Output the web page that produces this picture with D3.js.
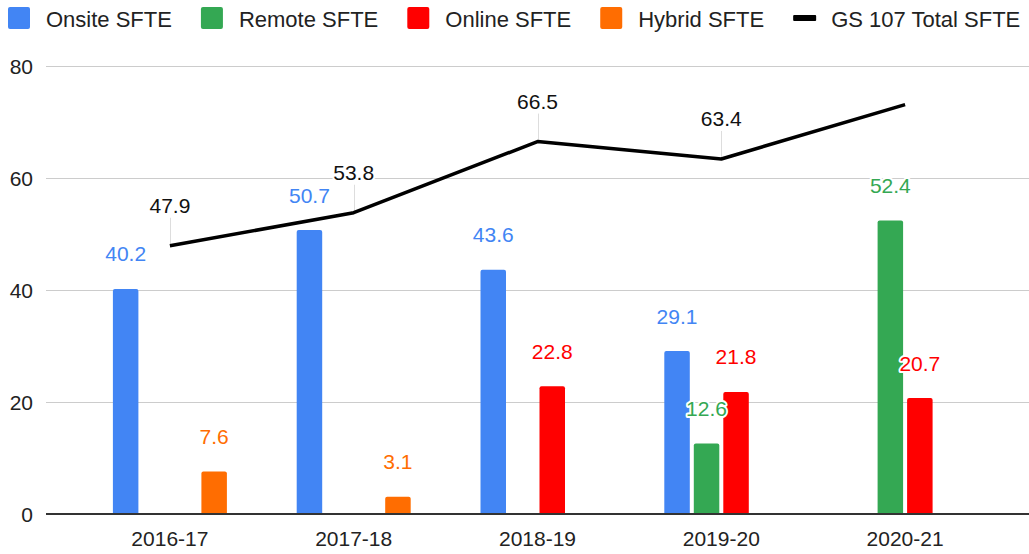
<!DOCTYPE html>
<html>
<head>
<meta charset="utf-8">
<script src="https://cdn.jsdelivr.net/npm/d3@7"></script>
<style>
  html, body { margin: 0; padding: 0; background: #fff; }
  svg { display: block; font-family: "Liberation Sans", Arial, sans-serif; }
</style>
</head>
<body>
<svg id="chart" width="1029" height="554"></svg>
<script>
// chart data
var years = ['2016-17', '2017-18', '2018-19', '2019-20', '2020-21'];
var onsite = [40.2, 50.7, 43.6, 29.1, null];
var remote = [null, null, null, 12.6, 52.4];
var online = [null, null, 22.8, 21.8, 20.7];
var hybrid = [7.6, 3.1, null, null, null];
var total = [47.9, 53.8, 66.5, 63.4, 73.1];
var totalLabels = [true, true, true, true, false];
var yTicks = [0, 20, 40, 60, 80];

var seriesNames = ['Onsite SFTE', 'Remote SFTE', 'Online SFTE', 'Hybrid SFTE'];
var seriesColors = ['#4285f4', '#34a853', '#ff0000', '#ff6d01'];
var barSeries = [onsite, remote, online, hybrid];

var svg = d3.select('#chart'),
    fontSize = 21,
    legendSize = 22,
    textColor = '#222';

var x = d3.scaleBand()
  .domain(years)
  .range([78, 997]);

var y = d3.scaleLinear()
  .domain([0, 80])
  .range([514, 66]);

// bars inside a group: 25.5px wide with a 4px gap
var barW = 25.5, barGap = 4;
var groupW = barSeries.length * (barW + barGap) - barGap;
function barX(i, s) {
  return x(years[i]) + x.bandwidth() / 2 - groupW / 2 + s * (barW + barGap);
}

// gridlines + y labels
svg.append('g')
  .selectAll('line')
  .data(yTicks.slice(1))
  .enter()
  .append('line')
  .attr('x1', 46)
  .attr('x2', 1029)
  .attr('y1', function (d) { return y(d) + 0.5; })
  .attr('y2', function (d) { return y(d) + 0.5; })
  .style('stroke', '#cccccc')
  .style('stroke-width', 1);

svg.append('g')
  .selectAll('text')
  .data(yTicks)
  .enter()
  .append('text')
  .attr('x', 33)
  .attr('y', function (d) { return y(d); })
  .attr('dy', '0.36em')
  .attr('text-anchor', 'end')
  .style('font-size', fontSize + 'px')
  .style('fill', textColor)
  .text(function (d) { return d; });

// bars
var barData = [];
barSeries.forEach(function (vals, s) {
  vals.forEach(function (v, i) {
    if (v !== null) {
      barData.push({s: s, i: i, v: v});
    }
  });
});

svg.append('g')
  .selectAll('path')
  .data(barData)
  .enter()
  .append('path')
  .attr('d', function (d) {
    var x0 = barX(d.i, d.s), x1 = x0 + barW, y0 = y(d.v), y1 = y(0), r = 2;
    return 'M' + x0 + ',' + y1 + 'V' + (y0 + r) +
      'Q' + x0 + ',' + y0 + ' ' + (x0 + r) + ',' + y0 +
      'H' + (x1 - r) + 'Q' + x1 + ',' + y0 + ' ' + x1 + ',' + (y0 + r) +
      'V' + y1 + 'Z';
  })
  .style('fill', function (d) { return seriesColors[d.s]; });

// x axis line
svg.append('line')
  .attr('x1', 46)
  .attr('x2', 1029)
  .attr('y1', y(0))
  .attr('y2', y(0))
  .style('stroke', '#333')
  .style('stroke-width', 2);

svg.append('g')
  .selectAll('text')
  .data(years)
  .enter()
  .append('text')
  .attr('x', function (d) { return x(d) + x.bandwidth() / 2; })
  .attr('y', 546)
  .attr('text-anchor', 'middle')
  .style('font-size', fontSize + 'px')
  .style('fill', textColor)
  .text(function (d) { return d; });

// total line
var cx = function (d, i) { return x(years[i]) + x.bandwidth() / 2; };
var line = d3.line()
  .x(cx)
  .y(function (d) { return y(d); });

var labelled = total
  .map(function (v, i) { return {v: v, i: i}; })
  .filter(function (d) { return totalLabels[d.i]; });

// leader lines for total labels
svg.append('g')
  .selectAll('line')
  .data(labelled)
  .enter()
  .append('line')
  .attr('x1', function (d) { return Math.round(cx(d.v, d.i)) + 0.5; })
  .attr('x2', function (d) { return Math.round(cx(d.v, d.i)) + 0.5; })
  .attr('y1', function (d) { return y(d.v) - 28; })
  .attr('y2', function (d) { return y(d.v); })
  .style('stroke', '#dddddd')
  .style('stroke-width', 1);

svg.append('path')
  .datum(total)
  .attr('d', line)
  .style('fill', 'none')
  .style('stroke', '#000')
  .style('stroke-width', 3.5)
  .style('stroke-linejoin', 'round');

// bar labels (white halo)
svg.append('g')
  .selectAll('text')
  .data(barData)
  .enter()
  .append('text')
  .attr('x', function (d) { return barX(d.i, d.s) + barW / 2; })
  .attr('y', function (d) { return y(d.v) - 27.5; })
  .attr('text-anchor', 'middle')
  .style('font-size', fontSize + 'px')
  .style('fill', function (d) { return seriesColors[d.s]; })
  .style('stroke', '#fff')
  .style('stroke-width', 4)
  .style('stroke-linejoin', 'round')
  .style('paint-order', 'stroke')
  .text(function (d) { return d.v.toFixed(1); });

// total labels
svg.append('g')
  .selectAll('text')
  .data(labelled)
  .enter()
  .append('text')
  .attr('x', function (d) { return cx(d.v, d.i); })
  .attr('y', function (d) { return y(d.v) - 32.5; })
  .attr('text-anchor', 'middle')
  .style('font-size', fontSize + 'px')
  .style('fill', '#111')
  .style('stroke', '#fff')
  .style('stroke-width', 4)
  .style('stroke-linejoin', 'round')
  .style('paint-order', 'stroke')
  .text(function (d) { return d.v.toFixed(1); });

// legend
var legend = svg.append('g');
var lx = 8;
var legendItems = seriesNames.concat(['GS 107 Total SFTE']);
legendItems.forEach(function (name, k) {
  if (k < seriesNames.length) {
    legend.append('rect')
      .attr('x', lx)
      .attr('y', 7)
      .attr('width', 22)
      .attr('height', 22)
      .attr('rx', 2)
      .style('fill', seriesColors[k]);
  } else {
    legend.append('rect')
      .attr('x', lx)
      .attr('y', 15)
      .attr('width', 23)
      .attr('height', 6)
      .attr('rx', 1)
      .style('fill', '#000');
  }
  var t = legend.append('text')
    .attr('x', lx + 38)
    .attr('y', 26.5)
    .style('font-size', legendSize + 'px')
    .style('fill', textColor)
    .text(name);
  lx += 38 + t.node().getComputedTextLength() + 29;
});
</script>
</body>
</html>
